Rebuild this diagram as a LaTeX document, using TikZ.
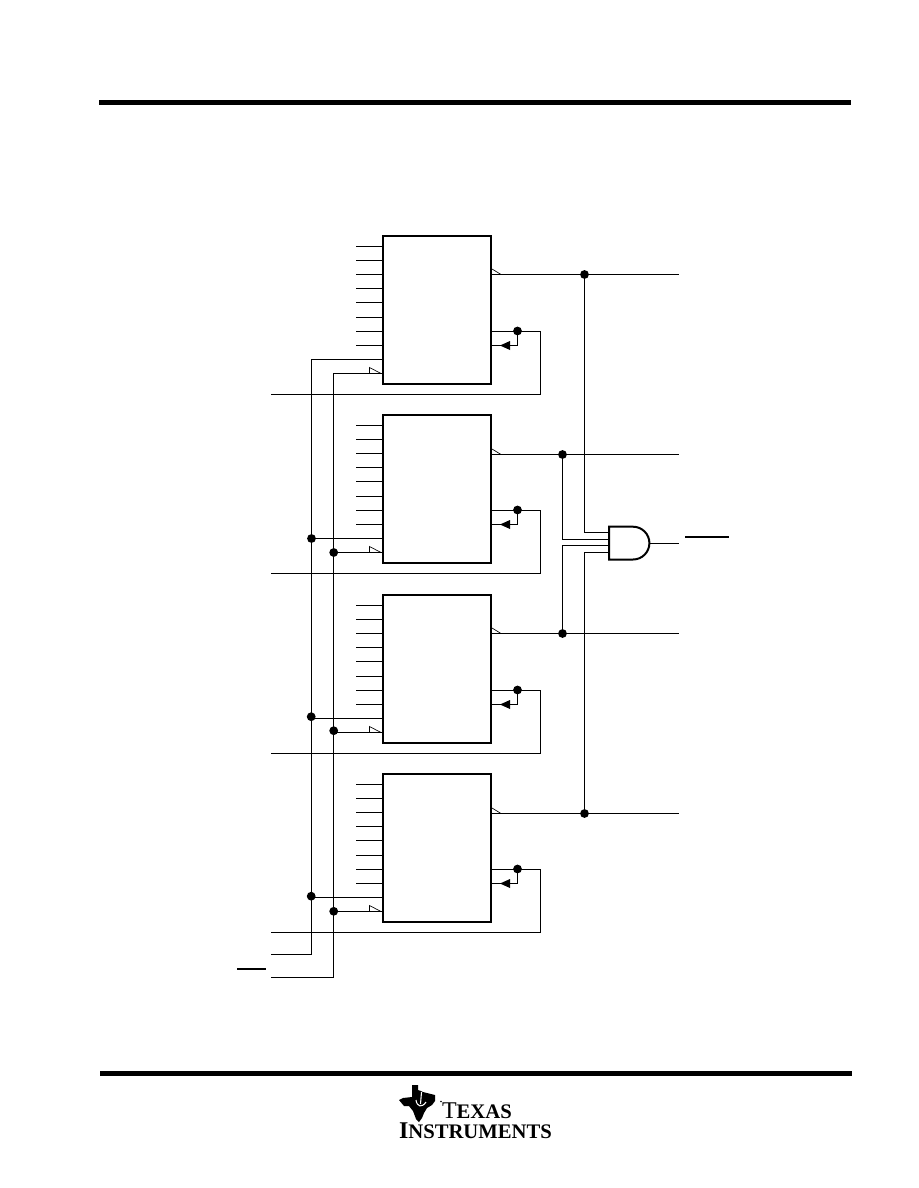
\documentclass[tikz,border=0pt]{standalone}
\usepackage{fontspec}
\setmainfont{Liberation Serif}
\tikzset{
  x=0.75pt,y=-0.75pt,
  wire/.style={line width=0.9pt,line cap=butt},
  reg/.style={draw,line width=1.5pt,minimum width=81.1pt,minimum height=111pt,inner sep=0pt,outer sep=0pt,fill=white},
  junction/.style={circle,fill=black,inner sep=0pt,outer sep=0pt,minimum size=6.6pt},
  ticktri/.style={line width=0.5pt},
  bar/.style={fill=black,draw=none},
  logotext/.style={inner sep=0pt,outer sep=0pt}
}
\begin{document}
\begin{tikzpicture}
\useasboundingbox (0,0) rectangle (918,1188);
\fill[white] (0,0) rectangle (918,1188);
\fill[bar] (99,100) rectangle (851,105);
\fill[bar] (100,1071) rectangle (852,1076);
% shared rails
\coordinate (clrin) at (271,954.5);
\coordinate (clkin) at (271,977.5);
\draw[wire] (clrin) -- (311.5,954.5) -- (311.5,359.5) -- (383,359.5);
\draw[wire] (clkin) -- (333.5,977.5) -- (333.5,373.5) -- (383,373.5);
% registers
\foreach \n/\t/\q in {1/236.5/38,2/415.5/39,3/595.5/38,4/774.5/39}{
  \node[reg,anchor=north west] (r\n) at (383,\t-0.8) {};
  \foreach \o in {10,24,38,52,66,81,95,109}
    \draw[wire] (356,\t+\o) -- (383,\t+\o);
  % clock triangle
  \draw[ticktri] (369.5,\t+137) -- (369.5,\t+131) -- (381,\t+137);
  % output triangle
  \draw[ticktri] (492,\t+\q-5.5) -- (501,\t+\q);
  % feedback
  \coordinate (fb\n) at (517.5,\t+94.5);
  \node[junction] (fj\n) at (fb\n) {};
  \draw[wire] (491,\t+95) -- (540.5,\t+95) -- (540.5,\t+158) -- (271,\t+158);
  \draw[wire] (fj\n) -- (517.5,\t+109) -- (491,\t+109);
  \fill (500,\t+109) -- (510,\t+104.5) -- (510,\t+113.5) -- cycle;
  % outputs
  \coordinate (q\n) at (491,\t+\q);
  \coordinate (qe\n) at (679,\t+\q);
  \draw[wire] (q\n) -- (qe\n);
}
% rail junctions
\foreach \n/\a/\b/\wa/\wb/\xa in {2/538.5/552.5/538.5/552.5/311.5,3/716.7/730.7/718.5/732.5/311.2,4/896.2/911.3/897.5/911.5/311.2}{
  \node[junction] (cj\n) at (\xa,\a) {};
  \node[junction] (kj\n) at (333.7,\b) {};
  \coordinate (cw\n) at (311.5,\wa);
  \coordinate (kw\n) at (333.5,\wb);
  \draw[wire] (cw\n) -- (383,\wa);
  \draw[wire] (kw\n) -- (383,\wb);
}
% output junctions and AND gate
\node[junction] (o1) at (584.5,274.5) {};
\node[junction] (o2) at (562.5,454.5) {};
\node[junction] (o3) at (562.5,633.5) {};
\node[junction] (o4) at (584.5,813.5) {};
\draw[wire] (o1) -- (584.5,532.5) -- (609,532.5);
\draw[wire] (o2) -- (562.5,539.5) -- (609,539.5);
\draw[wire] (o3) -- (562.5,545.5) -- (609,545.5);
\draw[wire] (o4) -- (584.5,552.5) -- (609,552.5);
\coordinate (gout) at (649,543.5);
\coordinate (goute) at (679,543.5);
\draw[wire] (gout) -- (goute);
\draw[line width=1.5pt,fill=white,line join=miter] (609,526.7) -- (633,526.7) arc[start angle=90,end angle=-90,radius=12.3pt] -- (609,559.5) -- cycle;
% overbars
\fill[bar] (685,536) rectangle (729,537.8);
\fill[bar] (237,968) rectangle (266,970);
% logo
\fill (412,1085) -- (418,1085) -- (418,1090) -- (421,1091) -- (423,1092) -- (427,1093) -- (435,1095) -- (435,1101) -- (432,1105) -- (427,1108) -- (424,1113) -- (422,1118) -- (419,1122) -- (416,1119) -- (413,1111) -- (409,1106) -- (404,1106) -- (399,1100) -- (403,1098) -- (412,1097) -- cycle;
\draw[white,line width=0.8pt] (421.5,1092) -- (420.5,1104) (416,1100) .. controls (417,1107) and (422,1108) .. (426,1102);
\fill (441,1101.5) circle[radius=0.6pt];
\node[logotext,anchor=base west] (tx) at (442,1118) {\fontsize{18}{18}\selectfont T\fontsize{15.5}{15.5}\selectfont\bfseries EXAS};
\node[logotext,anchor=base west] (ti) at (399,1138) {\bfseries\fontsize{18}{18}\selectfont I\fontsize{15.5}{15.5}\selectfont NSTRUMENTS};
\end{tikzpicture}
\end{document}
